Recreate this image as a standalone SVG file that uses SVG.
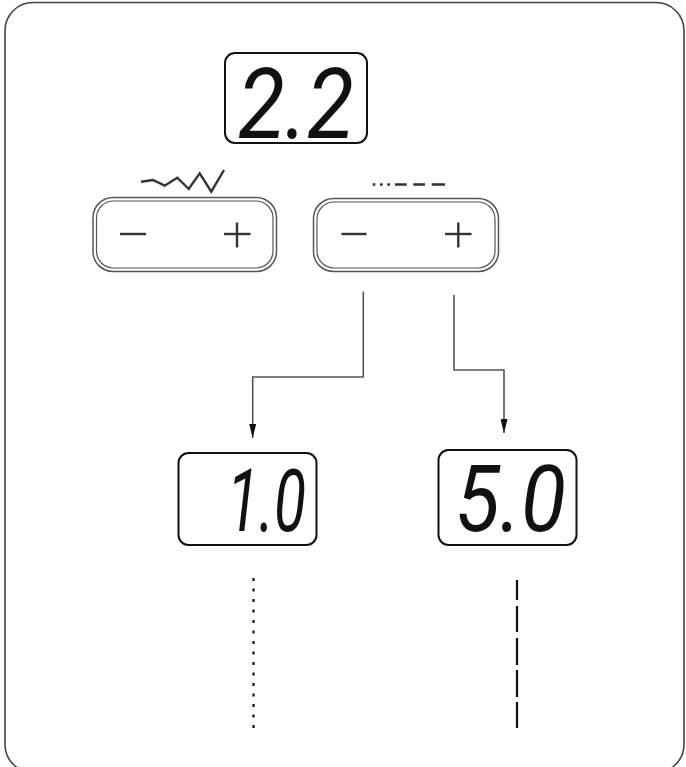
<svg xmlns="http://www.w3.org/2000/svg" width="686" height="767" viewBox="0 0 686 767">
<defs>
<style>
.frame{fill:none;stroke:#444;stroke-width:1.6}
.lcd{fill:#fff;stroke:#111;stroke-width:2}
.digits{font-family:Roboto,"Liberation Sans",sans-serif;font-style:italic;font-weight:400;fill:#111}
.btnO{fill:#fff;stroke:#555;stroke-width:1.5}
.btnI{fill:none;stroke:#555;stroke-width:1.2}
.sym{stroke:#333;stroke-width:2.4;fill:none}
.conn{fill:none;stroke:#555;stroke-width:1.6}
.stitch{fill:none;stroke:#111;stroke-width:2.2}
</style>
<marker id="arr" viewBox="0 0 10 10" refX="10" refY="5" markerWidth="14" markerHeight="7" markerUnits="userSpaceOnUse" orient="auto" preserveAspectRatio="none">
<path d="M0,0 L10,5 L0,10 Z" fill="#111"/>
</marker>
</defs>
<rect x="0" y="0" width="686" height="767" fill="#fff"/>
<rect class="frame" x="5" y="2.5" width="679" height="770" rx="28"/>

<g id="display-main">
<rect class="lcd" x="225" y="53" width="142" height="90" rx="10"/>
<text class="digits" x="238" y="138" font-size="98" textLength="116" lengthAdjust="spacingAndGlyphs">2.2</text>
</g>

<g id="stitch-zigzag">
<polyline class="sym" stroke-width="1.8" points="141,181.7 153,180 164.7,185.7 177.3,177.7 188.7,189 199.7,173.3 211.3,191.7 224,170"/>
</g>

<g id="button-width">
<rect class="btnO" x="93" y="197.5" width="183.5" height="74" rx="20"/>
<rect class="btnI" x="96.5" y="201" width="176.5" height="67" rx="17"/>
<line class="sym" x1="120" y1="234" x2="146" y2="234"/>
<line class="sym" x1="224" y1="234" x2="250.5" y2="234"/>
<line class="sym" x1="237" y1="222.5" x2="237" y2="247.5"/>
</g>

<g id="stitch-dashed">
<path class="sym" stroke-width="2" d="M372.7,184.5 H375.3 M380,184.5 H382.7 M387.3,184.5 H390 M395,184.5 H406.7 M413.3,184.5 H425 M431.7,184.5 H445"/>
</g>

<g id="button-length">
<rect class="btnO" x="313.5" y="198.5" width="185" height="73" rx="20"/>
<rect class="btnI" x="317" y="202" width="178" height="66" rx="17"/>
<line class="sym" x1="341.5" y1="234" x2="366.5" y2="234"/>
<line class="sym" x1="445" y1="234" x2="471.5" y2="234"/>
<line class="sym" x1="458.3" y1="222.5" x2="458.3" y2="247.5"/>
</g>

<g id="connectors">
<polyline class="conn" points="363.3,291.5 363.3,377 252.7,377 252.7,438" marker-end="url(#arr)"/>
<polyline class="conn" points="454,295 454,370 504,370 504,433" marker-end="url(#arr)"/>
</g>

<g id="display-min">
<rect class="lcd" x="178.5" y="453" width="138" height="92" rx="10"/>
<text class="digits" x="227" y="531" font-size="86" textLength="79" lengthAdjust="spacingAndGlyphs">1.0</text>
</g>

<g id="display-max">
<rect class="lcd" x="438.5" y="450" width="138" height="95" rx="10"/>
<text class="digits" x="455" y="531" font-size="92" textLength="111" lengthAdjust="spacingAndGlyphs">5.0</text>
</g>

<g id="stitch-short">
<line class="stitch" x1="253.5" y1="578" x2="253.5" y2="733" stroke-dasharray="3 7.5"/>
</g>

<g id="stitch-long">
<path class="stitch" d="M517,580 V600 M517,606 V632 M517,638 V665 M517,670 V697 M517,702 V728"/>
</g>
</svg>
